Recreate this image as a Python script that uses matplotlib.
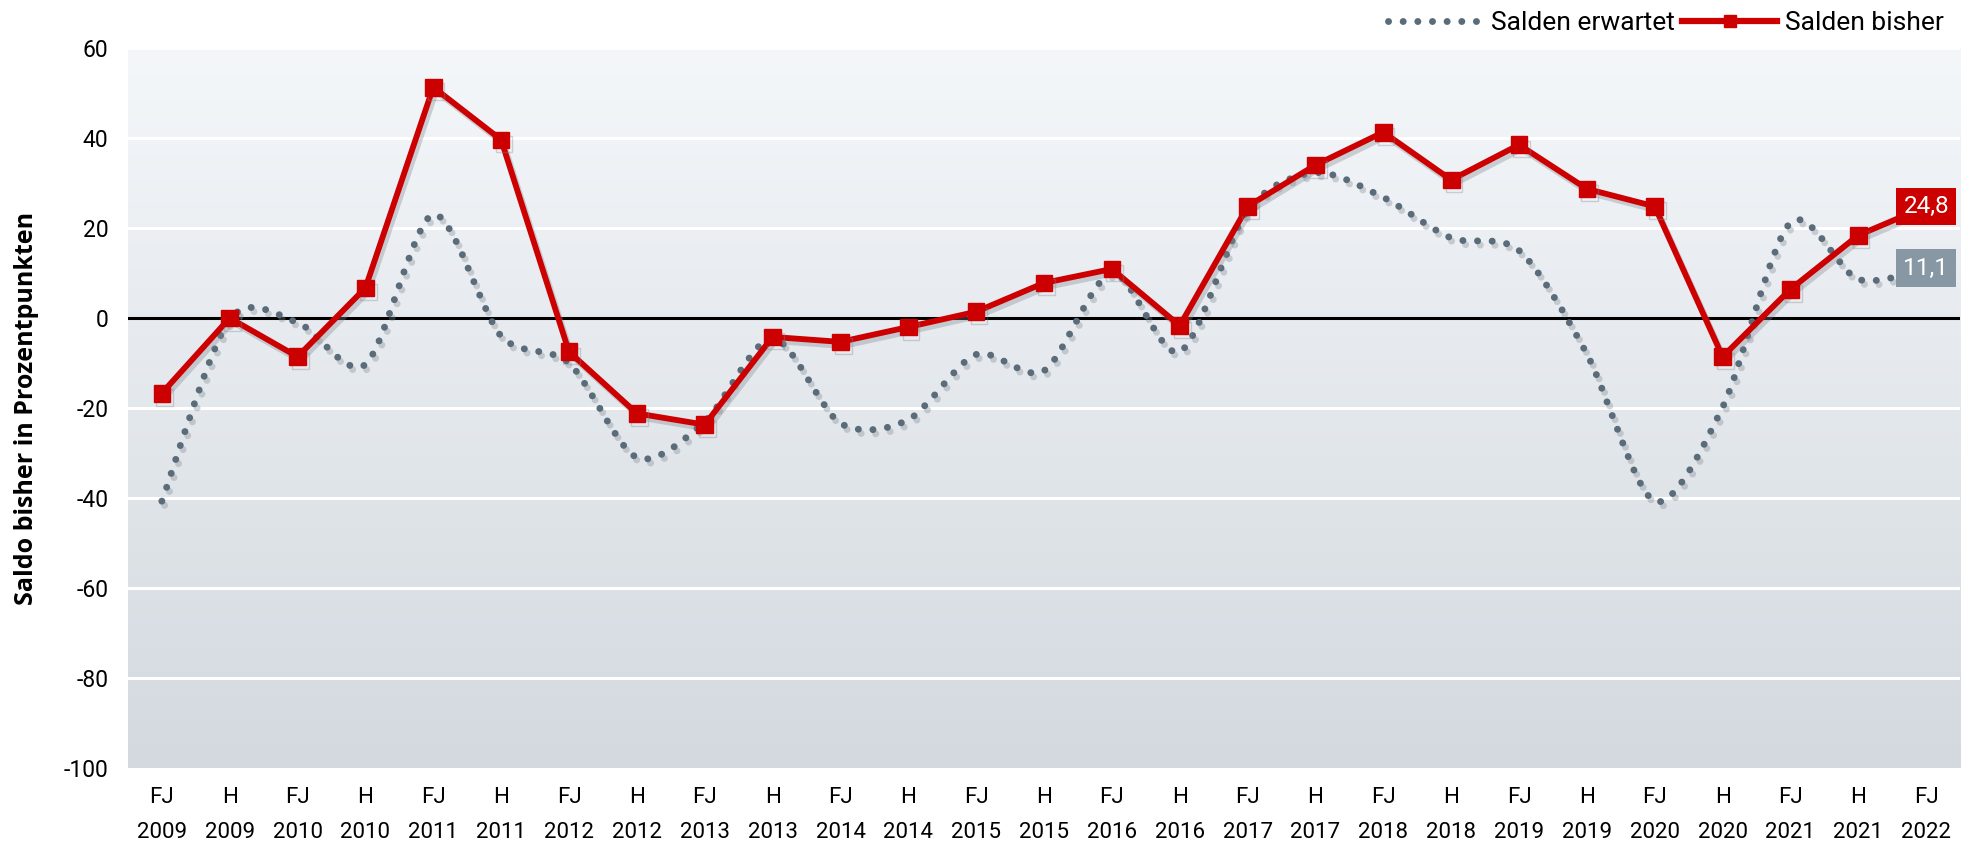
import matplotlib
matplotlib.use("Agg")
import matplotlib.pyplot as plt
import matplotlib.patheffects as pe
from matplotlib.path import Path
from matplotlib.patches import PathPatch
from matplotlib.lines import Line2D
from matplotlib.colors import LinearSegmentedColormap
import numpy as np

# data
periods = ["FJ", "H"] * 13 + ["FJ"]
years = [2009, 2009, 2010, 2010, 2011, 2011, 2012, 2012, 2013, 2013, 2014, 2014,
         2015, 2015, 2016, 2016, 2017, 2017, 2018, 2018, 2019, 2019, 2020, 2020,
         2021, 2021, 2022]
salden_bisher = [-16.7, 0.0, -8.6, 6.7, 51.3, 39.6, -7.5, -21.2, -23.7, -4.2,
                 -5.3, -2.0, 1.4, 7.8, 10.9, -1.7, 24.8, 34.0, 41.3, 30.7,
                 38.5, 28.7, 24.8, -8.6, 6.4, 18.4, 24.8]
salden_erwartet = [-40.7, -0.3, -1.0, -10.3, 23.0, -4.0, -10.0, -31.0, -23.0, -4.5,
                   -23.4, -22.6, -8.1, -11.7, 10.0, -7.5, 24.0, 32.3, 26.8, 17.8,
                   15.0, -8.0, -40.7, -19.8, 21.2, 8.6, 11.1]
tick_labels = [f"{p}\n{y}" for p, y in zip(periods, years)]

RED = "#cc0000"
GRAY = "#5a6b7a"
BOXGRAY = "#8797a4"
NARROW = ["Roboto", "DejaVu Sans"]
DOTS = (0, (0.01, 2.1))


def smooth_path(xs, ys):
	# catmull-rom style bezier through the data points
	pts = np.column_stack([xs, ys])
	verts = [pts[0]]
	codes = [Path.MOVETO]
	n = len(pts)
	for i in range(n - 1):
		p0 = pts[i - 1] if i > 0 else pts[i]
		p1 = pts[i]
		p2 = pts[i + 1]
		p3 = pts[i + 2] if i + 2 < n else pts[i + 1]
		verts += [p1 + (p2 - p0) / 7, p2 - (p3 - p1) / 7, p2]
		codes += [Path.CURVE4] * 3
	return Path(verts, codes)


def plot_salden():
	fig = plt.figure(figsize=(19.68, 8.52), dpi=100)
	ax = fig.add_axes([0.065, 0.0986, 0.931, 0.845])
	x = np.arange(len(years))

	cmap = LinearSegmentedColormap.from_list("bg", ["#f4f7fa", "#d3d9df"])
	ax.imshow(np.linspace(0, 1, 256).reshape(-1, 1), cmap=cmap, aspect="auto",
			  extent=[-0.5, 26.5, -100, 60], zorder=0)

	for yv in range(-80, 61, 20):
		if yv != 0:
			ax.axhline(yv, color="white", lw=2.2, zorder=1)
	ax.axhline(0, color="black", lw=2.2, zorder=2)

	shadow = [pe.SimpleLineShadow(offset=(2, -3), shadow_color="#808890", alpha=0.35), pe.Normal()]

	patch = PathPatch(smooth_path(x, salden_erwartet), fill=False, edgecolor=GRAY,
					  lw=5.0, linestyle=DOTS, capstyle="round", zorder=3)
	patch.set_path_effects(shadow)
	ax.add_patch(patch)

	ax.plot(x, salden_bisher, color=RED, lw=4.2, marker="s", markersize=12,
			zorder=4, path_effects=shadow)

	ax.text(26.0, salden_bisher[-1], f"{salden_bisher[-1]:.1f}".replace(".", ","),
			color="white", fontsize=17.5, family=NARROW, ha="center", va="center", zorder=6,
			bbox=dict(boxstyle="square,pad=0.3", fc=RED, ec="none"))
	ax.text(26.0, salden_erwartet[-1], f"{salden_erwartet[-1]:.1f}".replace(".", ","),
			color="white", fontsize=17.5, family=NARROW, ha="center", va="center", zorder=6,
			bbox=dict(boxstyle="square,pad=0.3", fc=BOXGRAY, ec="none"))

	ax.set_xlim(-0.5, 26.5)
	ax.set_ylim(-100, 60)
	ax.set_xticks(x)
	ax.set_xticklabels(tick_labels, family=NARROW, fontsize=16, linespacing=1.85)
	ax.set_yticks(np.arange(-100, 61, 20))
	ax.set_yticklabels([str(v) for v in range(-100, 61, 20)], family=NARROW, fontsize=16.5)
	ax.tick_params(length=0, pad=14)
	ax.tick_params(axis="x", pad=14)
	for s in ax.spines.values():
		s.set_visible(False)
	ax.set_ylabel("Saldo bisher in Prozentpunkten", fontsize=18, fontweight="bold",
				  family=["Open Sans", "DejaVu Sans"], labelpad=18)

	handles = [Line2D([], [], color=GRAY, lw=5.0, linestyle=DOTS, dash_capstyle="round"),
			   Line2D([], [], color=RED, lw=4.5, marker="s", markersize=9)]
	fig.legend(handles, ["Salden erwartet", "Salden bisher"], loc="upper right",
			   bbox_to_anchor=(1.0, 1.015), ncol=2, frameon=False, handlelength=3.6,
			   handletextpad=0.3, columnspacing=0.3, prop={"family": NARROW, "size": 19})

	fig.savefig("out.png", dpi=100)


if __name__ == '__main__':
	plot_salden()
